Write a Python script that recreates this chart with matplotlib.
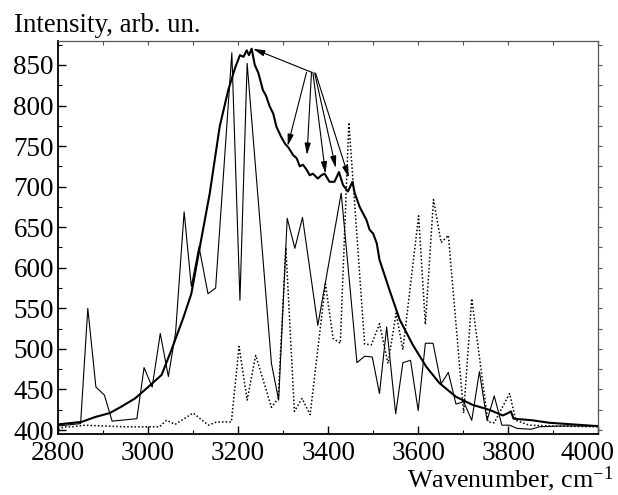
import numpy as np
import matplotlib
matplotlib.use("Agg")
import matplotlib.pyplot as plt
import matplotlib.transforms as mtransforms

plt.rcParams['font.family'] = ['Liberation Serif', 'DejaVu Serif']
plt.rcParams['mathtext.fontset'] = 'custom'
plt.rcParams['mathtext.rm'] = 'Liberation Serif'
plt.rcParams['mathtext.it'] = 'Liberation Serif:italic'

# thick (smooth) spectrum
x_thick = [2800, 2852, 2882, 2915, 2941, 2971, 3000, 3030, 3052, 3078, 3096, 3115,
           3137, 3159, 3178, 3193, 3204, 3212, 3219, 3224, 3230, 3237, 3245, 3255,
           3262, 3270, 3278, 3285, 3295, 3304, 3312, 3322, 3330, 3337, 3344, 3352,
           3359, 3366, 3377, 3385, 3392, 3403, 3414, 3424, 3433, 3444, 3454, 3459,
           3470, 3485, 3492, 3500, 3508, 3514, 3536, 3559, 3588, 3618, 3647, 3684,
           3721, 3758, 3788, 3800, 3806, 3812, 3854, 3891, 3943, 3995, 4000]
y_thick = [407, 410, 416, 421, 429, 439, 453, 468, 499, 538, 568, 626,
           692, 774, 819, 846, 862, 860, 868, 862, 870, 850, 840, 819,
           812, 799, 790, 774, 762, 753, 748, 739, 735, 725, 727, 721,
           714, 716, 710, 714, 716, 706, 706, 718, 702, 694, 706, 692,
           675, 659, 647, 642, 630, 610, 573, 536, 505, 478, 458, 441,
           431, 425, 418, 421, 423, 414, 412, 409, 407, 405, 405]

# thin solid spectrum
x_thin = [2800, 2850, 2866, 2884, 2903, 2920, 2975, 2991, 3009, 3027, 3045, 3061,
          3080, 3096, 3113, 3133, 3150, 3186, 3204, 3220, 3274, 3290, 3309, 3326,
          3343, 3377, 3429, 3464, 3481, 3498, 3514, 3530, 3550, 3566, 3583, 3600,
          3616, 3633, 3651, 3667, 3684, 3701, 3719, 3736, 3753, 3769, 3786, 3803,
          3820, 3851, 3869, 3920, 4000]
y_thin = [405, 408, 550, 453, 443, 411, 414, 477, 453, 519, 466, 520,
          669, 577, 626, 568, 575, 865, 560, 852, 482, 437, 661, 624,
          662, 529, 692, 483, 491, 490, 445, 527, 420, 483, 486, 424,
          507, 507, 457, 471, 432, 435, 412, 472, 412, 442, 406, 406,
          402, 401, 404, 405, 405]

# dotted spectrum
x_dot = [2800, 2815, 2830, 2860, 2900, 2950, 3000, 3025, 3041, 3060, 3100, 3134,
         3152, 3185, 3202, 3220, 3239, 3274, 3289, 3306, 3325, 3342, 3360, 3394,
         3411, 3427, 3446, 3481, 3496, 3514, 3533, 3551, 3566, 3601, 3616, 3634,
         3651, 3667, 3701, 3719, 3755, 3769, 3803, 3817, 3847, 3900, 4000]
y_dot = [401, 404, 404, 406, 405, 404, 404, 404, 412, 407, 421, 406,
         410, 410, 503, 437, 492, 428, 439, 625, 423, 439, 419, 580,
         513, 507, 779, 506, 505, 531, 482, 544, 499, 664, 530, 684,
         631, 640, 421, 562, 410, 409, 445, 412, 406, 405, 404]

# arrows: tail -> head
arrow_tails = [(3363, 841), (3352, 841), (3363, 841), (3366, 841), (3370, 840), (3372, 840)]
arrow_heads = [(3233, 870), (3310, 750), (3353, 739), (3394, 716), (3417, 723), (3446, 711)]

fig = plt.figure(figsize=(6.18, 4.95), dpi=100)
ax = fig.add_axes([0.094, 0.123, 0.874, 0.795])

ax.plot(x_dot, y_dot, color='k', lw=1.1, ls=(0, (1, 1.4)))
ax.plot(x_thin, y_thin, color='k', lw=0.8)
ax.plot(x_thick, y_thick, color='k', lw=1.5)

for t, h in zip(arrow_tails, arrow_heads):
    ax.annotate('', xy=h, xytext=t,
                arrowprops=dict(arrowstyle='-|>,head_length=0.7,head_width=0.18',
                                color='k', lw=0.8, shrinkA=0, shrinkB=0))

ax.set_xlim(2800, 4000)
ax.set_ylim(395, 880)
ax.set_xticks(np.arange(2800, 4001, 200))
ax.set_xticks(np.arange(2800, 4001, 100), minor=True)
ax.set_yticks(np.arange(400, 851, 50))
ax.set_yticks(np.arange(400, 876, 25), minor=True)
ax.tick_params(which='both', direction='in', top=False, right=False, labelsize=19.5)
ax.tick_params(which='major', length=6, width=1)
ax.tick_params(which='minor', length=3, width=0.8)
ax.tick_params(axis='x', pad=5)
ax.tick_params(axis='y', pad=3)

# last x label pulled left so it stays inside the figure
lab = ax.get_xticklabels()[-1]
lab.set_transform(lab.get_transform() + mtransforms.ScaledTranslation(-11 / 100, 0, fig.dpi_scale_trans))

for s in ['left', 'bottom']:
    ax.spines[s].set_linewidth(1.3)
for s in ['top', 'right']:
    ax.spines[s].set_linewidth(0.9)
    ax.spines[s].set_color('#555555')

top = ax.secondary_xaxis('top')
top.set_xticks(np.arange(2800, 4001, 100))
top.tick_params(direction='in', length=3, width=0.8, labeltop=False, colors='#555555')
top.spines['top'].set_visible(False)
right = ax.secondary_yaxis('right')
right.set_yticks(np.arange(400, 876, 25))
right.tick_params(direction='out', length=3, width=0.8, labelright=False, colors='#555555')
right.spines['right'].set_visible(False)

fig.text(0.0227, 0.936, 'Intensity, arb. un.', fontsize=19.3, ha='left', va='baseline')
fig.text(0.992, 0.016, 'Wavenumber, cm$^{\\mathrm{-1}}$', fontsize=18.8, ha='right', va='baseline')

fig.savefig('out.png', dpi=100)
